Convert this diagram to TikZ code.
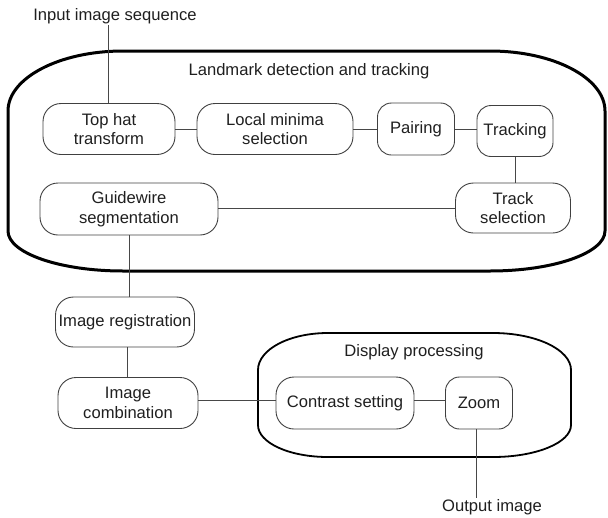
\documentclass[tikz,border=0pt]{standalone}
\usepackage{fontspec}
\setmainfont{Liberation Sans}
\begin{document}
\begin{tikzpicture}[x=1pt,y=-1pt,
  every node/.style={font=\fontsize{16.6}{19.5}\selectfont, text=black!88},
  box/.style={draw=black!75, line width=0.9pt, rounded corners=18pt, align=center, inner sep=0pt},
  smallbox/.style={box, rounded corners=14pt},
  link/.style={draw=black!72, line width=1pt},
  lbl/.style={inner sep=1pt}]
\useasboundingbox (0,0) rectangle (608,517);
% containers
\draw[line width=3pt, black]
  (123,51) -- (490,51) .. controls (553.5,51) and (605,77.9) .. (605,111)
  -- (605,231) .. controls (605,253) and (553.5,271) .. (490,271)
  -- (123,271) .. controls (59.5,271) and (8,253) .. (8,231)
  -- (8,111) .. controls (8,77.9) and (59.5,51) .. (123,51) -- cycle;
\draw[line width=1.8pt, black]
  (328,333) -- (493,333) .. controls (536,333) and (571,349.6) .. (571,370)
  -- (571,425) .. controls (571,442.7) and (536,457) .. (493,457)
  -- (328,457) .. controls (289,457) and (258,442.7) .. (258,425)
  -- (258,370) .. controls (258,349.6) and (289,333) .. (328,333) -- cycle;
% labels
\node[lbl] (inp) at (115,16) {Input image sequence};
\node[lbl] (ldt) at (309,71) {Landmark detection and tracking};
\node[lbl] (dsp) at (414,352) {Display processing};
\node[lbl] (out) at (492,507) {Output image};
% boxes
\node[box, minimum width=132pt, minimum height=51pt] (th) at (109,129) {Top hat\\transform};
\node[box, minimum width=156pt, minimum height=51pt] (lm) at (275,129) {Local minima\\selection};
\node[smallbox, minimum width=77pt, minimum height=52pt] (pa) at (416,129) {Pairing};
\node[smallbox, minimum width=76pt, minimum height=51pt] (tr) at (515,131) {Tracking};
\node[box, minimum width=178pt, minimum height=52pt] (gw) at (129,209) {Guidewire\\segmentation};
\node[box, minimum width=115pt, minimum height=50pt] (ts) at (513,208) {Track\\selection};
\node[box, minimum width=139pt, minimum height=50pt] (ir) at (125,322) {Image registration};
\node[box, minimum width=140pt, minimum height=51pt] (ic) at (128,403) {Image\\combination};
\node[box, minimum width=138pt, minimum height=52pt] (cs) at (345,403) {Contrast setting};
\node[smallbox, minimum width=67pt, minimum height=52pt] (zm) at (479,403) {Zoom};
% connectors
\draw[link] (th.north) ++(-1,0) coordinate (thn) -- (thn |- inp.south);
\draw[link] (th.east) -- (lm.west);
\draw[link] (lm.east) -- (pa.west);
\draw[link] (pa.east) -- (pa.east -| tr.west);
\draw[link] (tr.south) -- (tr.south |- ts.north);
\draw[link] (ts.west) -- (ts.west -| gw.east);
\draw[link] (gw.south) -- (gw.south |- ir.north);
\draw[link] (ir.south) ++(2,0) coordinate (irs) -- (irs |- ic.north);
\draw[link] ([yshift=3pt]ic.east) -- ([yshift=3pt]cs.west);
\draw[link] ([yshift=3pt]cs.east) -- ([yshift=3pt]zm.west);
\draw[link] (zm.south) ++(-3,0) coordinate (zms) -- (zms |- out.north);
\end{tikzpicture}
\end{document}
